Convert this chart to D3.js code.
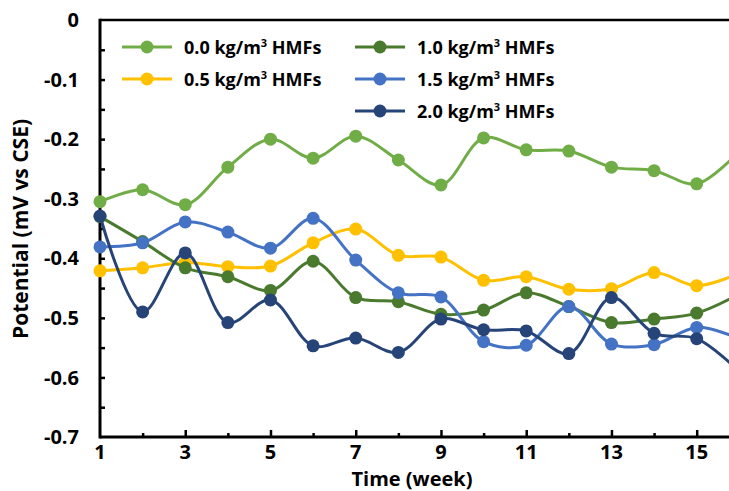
<!DOCTYPE html>
<meta charset="utf-8">
<style>
    body { margin: 0; background: #fff; }
    text { font-family: "Open Sans", sans-serif; font-weight: bold; fill: #000; }
</style>
<body>
<script src="https://d3js.org/d3.v7.min.js"></script>
<script>

// weeks and readings (potential, mV vs CSE)
var weeks = [1, 2, 3, 4, 5, 6, 7, 8, 9, 10, 11, 12, 13, 14, 15, 16];
var hmf00 = [-0.305, -0.285, -0.31, -0.247, -0.20, -0.232, -0.195, -0.235, -0.277, -0.198, -0.218, -0.22, -0.247, -0.253, -0.275, -0.22];
var hmf05 = [-0.421, -0.416, -0.407, -0.414, -0.413, -0.374, -0.351, -0.395, -0.398, -0.437, -0.431, -0.452, -0.451, -0.424, -0.446, -0.425];
var hmf10 = [-0.33, -0.372, -0.416, -0.431, -0.454, -0.405, -0.466, -0.473, -0.494, -0.487, -0.458, -0.481, -0.508, -0.502, -0.492, -0.46];
var hmf15 = [-0.381, -0.374, -0.339, -0.356, -0.383, -0.333, -0.403, -0.458, -0.465, -0.54, -0.546, -0.481, -0.544, -0.545, -0.516, -0.535];
var hmf20 = [-0.329, -0.49, -0.391, -0.508, -0.47, -0.547, -0.534, -0.558, -0.502, -0.52, -0.522, -0.56, -0.466, -0.526, -0.535, -0.59];

var seriesNames = ["0.0", "0.5", "1.0", "1.5", "2.0"];
var seriesColors = ["#70AD47", "#FFC000", "#4A7A2E", "#4472C4", "#264478"];
var seriesValues = [hmf00, hmf05, hmf10, hmf15, hmf20];

var yTicks = [0, -0.1, -0.2, -0.3, -0.4, -0.5, -0.6, -0.7];
var xTicks = [1, 3, 5, 7, 9, 11, 13, 15];

var width = 729, height = 491;
var plotLeft = 100, plotTop = 20, plotBottom = 437;

var x = d3.scaleLinear().domain([1, 15]).range([plotLeft, 696.7]);
var y = d3.scaleLinear().domain([-0.7, 0]).range([plotBottom, plotTop]);

var svg = d3.select("body").append("svg")
    .attr("width", width)
    .attr("height", height);

// top border
svg.append("line")
    .attr("x1", plotLeft).attr("x2", width)
    .attr("y1", plotTop).attr("y2", plotTop)
    .attr("stroke", "#000").attr("stroke-width", 2.5);

// y axis: ticks every 0.05, pointing inside
var yAxis = svg.append("g")
    .attr("transform", "translate(" + plotLeft + ",0)")
    .call(d3.axisRight(y).tickValues(d3.range(1, 14).map(function (i) { return -i * 0.05; }))
        .tickSize(5).tickFormat(""));
yAxis.select(".domain").remove();
yAxis.selectAll("line").attr("stroke", "#000").attr("stroke-width", 2.5);

yTicks.forEach(function (t) {
    svg.append("text")
        .attr("x", 79).attr("y", y(t))
        .attr("dy", "0.36em")
        .attr("text-anchor", "end")
        .style("font-size", "20px")
        .text(t === 0 ? "0" : t.toFixed(1));
});

// x axis: tick every week, odd weeks taller
var xAxis = svg.append("g")
    .attr("transform", "translate(0," + plotBottom + ")")
    .call(d3.axisTop(x).tickValues(d3.range(2, 17)).tickSize(5).tickFormat(""));
xAxis.select(".domain").remove();
xAxis.selectAll(".tick line")
    .attr("stroke", "#000").attr("stroke-width", 2.5)
    .attr("y2", function (d) { return d % 2 === 1 ? -7 : -4; });

xTicks.forEach(function (t) {
    svg.append("text")
        .attr("x", x(t)).attr("y", 459)
        .attr("text-anchor", "middle")
        .style("font-size", "20px")
        .text(t);
});

svg.append("line")
    .attr("x1", plotLeft).attr("x2", plotLeft)
    .attr("y1", plotTop - 1.25).attr("y2", plotBottom + 1.5)
    .attr("stroke", "#000").attr("stroke-width", 3);
svg.append("line")
    .attr("x1", plotLeft).attr("x2", width)
    .attr("y1", plotBottom).attr("y2", plotBottom)
    .attr("stroke", "#000").attr("stroke-width", 3);

// axis titles
svg.append("text")
    .attr("x", 412).attr("y", 486)
    .attr("text-anchor", "middle")
    .style("font-size", "20px")
    .text("Time (week)");

svg.append("text")
    .attr("transform", "translate(28,229) rotate(-90)")
    .attr("text-anchor", "middle")
    .style("font-size", "21px")
    .text("Potential (mV vs CSE)");

// lines
var line = d3.line()
    .x(function (d, i) { return x(weeks[i]); })
    .y(function (d) { return y(d); })
    .curve(d3.curveCatmullRom);

seriesValues.forEach(function (vals, k) {
    var g = svg.append("g");
    g.append("path")
        .attr("d", line(vals))
        .attr("fill", "none")
        .attr("stroke", seriesColors[k])
        .attr("stroke-width", 3);
    g.selectAll("circle")
        .data(vals)
        .enter().append("circle")
        .attr("cx", function (d, i) { return x(weeks[i]); })
        .attr("cy", function (d) { return y(d); })
        .attr("r", 6.5)
        .attr("fill", seriesColors[k]);
});

// legend
var legendPos = [[122, 47], [122, 79], [355, 47], [355, 79], [355, 111]];
seriesNames.forEach(function (name, k) {
    var p = legendPos[k];
    var g = svg.append("g").attr("transform", "translate(" + p[0] + "," + p[1] + ")");
    g.append("line")
        .attr("x1", 0).attr("x2", 50)
        .attr("stroke", seriesColors[k]).attr("stroke-width", 3);
    g.append("circle")
        .attr("cx", 25).attr("r", 6.5)
        .attr("fill", seriesColors[k]);
    var t = g.append("text")
        .attr("x", 62).attr("y", 6.5)
        .style("font-size", "18px");
    t.append("tspan").text(name + " kg/m");
    t.append("tspan").attr("dy", -7).style("font-size", "11px").text("3");
    t.append("tspan").attr("dy", 7).text(" HMFs");
});

</script>
</body>
